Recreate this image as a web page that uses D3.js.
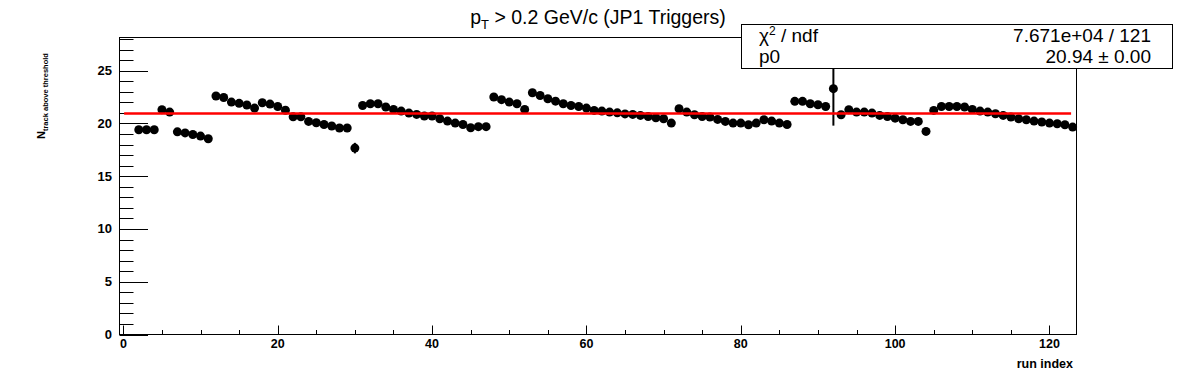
<!DOCTYPE html>
<html>
<head>
<meta charset="utf-8">
<script src="https://cdn.jsdelivr.net/npm/d3@7"></script>
<style>
  body { margin: 0; background: #fff; }
  svg { display: block; font-family: "Liberation Sans", Arial, Helvetica, sans-serif; }
</style>
</head>
<body>
<svg id="chart" width="1196" height="372"></svg>
<script>
/*
 * Data: one point per run index (2..123),
 * with its error and the constant fit.
 */
var runIndex = d3.range(2, 124);
var nTrack = [
    19.40, 19.40, 19.40, 21.30, 21.07, 19.20, 19.10, 18.95, 18.80, 18.55,
    22.60, 22.45, 22.02, 21.90, 21.74, 21.45, 21.96, 21.83, 21.60, 21.25,
    20.62, 20.62, 20.19, 20.06, 19.90, 19.75, 19.56, 19.56, 17.66, 21.70,
    21.86, 21.86, 21.55, 21.33, 21.17, 20.98, 20.85, 20.70, 20.70, 20.44,
    20.22, 20.03, 19.90, 19.59, 19.69, 19.69, 22.50, 22.25, 22.02, 21.86,
    21.33, 22.90, 22.65, 22.34, 22.11, 21.86, 21.70, 21.60, 21.45, 21.23,
    21.17, 21.07, 21.00, 20.90, 20.85, 20.76, 20.66, 20.54, 20.44, 20.03,
    21.39, 21.07, 20.82, 20.66, 20.60, 20.38, 20.19, 20.03, 20.03, 19.87,
    20.03, 20.35, 20.22, 20.03, 19.90, 22.09, 22.09, 21.86, 21.77, 21.60,
    23.29, 20.82, 21.30, 21.07, 21.07, 20.98, 20.76, 20.66, 20.50, 20.35,
    20.19, 20.19, 19.24, 21.23, 21.60, 21.60, 21.60, 21.55, 21.33, 21.17,
    21.07, 20.92, 20.76, 20.60, 20.44, 20.35, 20.22, 20.13, 20.03, 19.97,
    19.87, 19.65
];
var nTrackErr = [
    0.05, 0.05, 0.05, 0.05, 0.05, 0.05, 0.05, 0.05, 0.05, 0.05,
    0.05, 0.05, 0.05, 0.05, 0.05, 0.05, 0.05, 0.05, 0.05, 0.05,
    0.05, 0.05, 0.05, 0.05, 0.05, 0.05, 0.05, 0.05, 0.50, 0.05,
    0.05, 0.05, 0.05, 0.05, 0.05, 0.05, 0.05, 0.05, 0.05, 0.05,
    0.05, 0.05, 0.05, 0.05, 0.05, 0.05, 0.05, 0.05, 0.05, 0.05,
    0.05, 0.05, 0.05, 0.05, 0.05, 0.05, 0.05, 0.05, 0.05, 0.05,
    0.05, 0.05, 0.05, 0.05, 0.05, 0.05, 0.05, 0.05, 0.05, 0.05,
    0.05, 0.05, 0.05, 0.05, 0.05, 0.05, 0.05, 0.05, 0.05, 0.05,
    0.05, 0.05, 0.05, 0.05, 0.05, 0.05, 0.05, 0.05, 0.05, 0.05,
    3.50, 0.05, 0.05, 0.05, 0.05, 0.05, 0.05, 0.05, 0.05, 0.05,
    0.05, 0.05, 0.05, 0.05, 0.05, 0.05, 0.05, 0.05, 0.05, 0.05,
    0.05, 0.05, 0.05, 0.05, 0.05, 0.05, 0.05, 0.05, 0.05, 0.05,
    0.05, 0.05
];
var fitP0 = 20.94;
var fitRange = [0.1, 122.8];
var xTicks = [0, 20, 40, 60, 80, 100, 120];
var yTicks = [0, 5, 10, 15, 20, 25];
var statRows = [
    {name: 'ndf', value: '7.671e+04 / 121'},
    {name: 'p0', value: '20.94 \u00b1 0.00'}
];

var svg = d3.select('#chart');

/*
 * Frame and scales
 */
var frame = {left: 119.5, right: 1076.5, top: 37.5, bottom: 334.5};
var x = d3.scaleLinear().domain([-0.5, 123.5]).range([frame.left, frame.right]);
var y = d3.scaleLinear().domain([0, 28.14]).range([frame.bottom, frame.top]);

var points = runIndex.map(function(r, i) {
    return {x: r, y: nTrack[i], e: nTrackErr[i]};
});

// minor ticks first, then axes lines
var g = svg.append('g');

var yMinor = d3.range(0, 29, 1);
g.selectAll('.y-minor').data(yMinor).enter().append('line')
    .attr('x1', frame.left).attr('x2', function(d) {
        return frame.left + (d % 5 === 0 ? 28.5 : 14);
    })
    .attr('y1', function(d) { return Math.round(y(d)) + 0.5; })
    .attr('y2', function(d) { return Math.round(y(d)) + 0.5; })
    .attr('stroke', '#000').attr('stroke-width', 1);

var xMinor = d3.range(0, 124, 5);
g.selectAll('.x-minor').data(xMinor).enter().append('line')
    .attr('x1', function(d) { return Math.round(x(d)) + 0.5; })
    .attr('x2', function(d) { return Math.round(x(d)) + 0.5; })
    .attr('y1', frame.bottom)
    .attr('y2', function(d) { return frame.bottom - (d % 20 === 0 ? 9 : 4.5); })
    .attr('stroke', '#000').attr('stroke-width', 1);

// frame
g.append('rect')
    .attr('x', frame.left).attr('y', frame.top)
    .attr('width', frame.right - frame.left)
    .attr('height', frame.bottom - frame.top)
    .attr('fill', 'none').attr('stroke', '#000').attr('stroke-width', 1);

// tick labels
g.selectAll('.y-label').data(yTicks).enter().append('text')
    .attr('x', 112).attr('y', function(d) { return y(d) + 4.5; })
    .attr('text-anchor', 'end')
    .style('font-size', '13px').style('font-weight', 'bold')
    .text(function(d) { return d; });

g.selectAll('.x-label').data(xTicks).enter().append('text')
    .attr('x', function(d) { return x(d); }).attr('y', 348)
    .attr('text-anchor', 'middle')
    .style('font-size', '12.5px').style('font-weight', 'bold')
    .text(function(d) { return d; });

// axis titles
g.append('text')
    .attr('x', 1073).attr('y', 368)
    .attr('text-anchor', 'end')
    .style('font-size', '12.5px').style('font-weight', 'bold')
    .text('run index');

var yTitle = g.append('text')
    .attr('transform', 'translate(45,139) rotate(-90)')
    .style('font-weight', 'bold');
yTitle.append('tspan').style('font-size', '11px').text('N');
yTitle.append('tspan').attr('dy', 3).style('font-size', '7.5px').text('track above threshold');

// title
var title = svg.append('text')
    .attr('x', 598).attr('y', 24)
    .attr('text-anchor', 'middle')
    .style('font-size', '19.5px');
title.append('tspan').text('p');
title.append('tspan').attr('dy', 5).style('font-size', '13px').text('T');
title.append('tspan').attr('dy', -5).text(' > 0.2 GeV/c (JP1 Triggers)');

/*
 * Points with error bars
 */
var pts = svg.append('g');
pts.selectAll('.err').data(points).enter().append('line')
    .attr('x1', function(d) { return x(d.x); })
    .attr('x2', function(d) { return x(d.x); })
    .attr('y1', function(d) { return y(d.y - d.e); })
    .attr('y2', function(d) { return y(d.y + d.e); })
    .attr('stroke', '#000').attr('stroke-width', 2);

pts.selectAll('circle').data(points).enter().append('circle')
    .attr('cx', function(d) { return x(d.x); })
    .attr('cy', function(d) { return y(d.y); })
    .attr('r', 4.5)
    .attr('fill', '#000');

// constant fit
svg.append('line')
    .attr('x1', x(fitRange[0])).attr('x2', x(fitRange[1]))
    .attr('y1', y(fitP0)).attr('y2', y(fitP0))
    .attr('stroke', '#ff0000').attr('stroke-width', 2.3);

/*
 * Stats box
 */
var box = svg.append('g');
box.append('rect')
    .attr('x', 741.5).attr('y', 24.5)
    .attr('width', 431).attr('height', 44)
    .attr('fill', '#fff').attr('stroke', '#000').attr('stroke-width', 1);

var chi = box.append('text')
    .attr('x', 759).attr('y', 42)
    .style('font-size', '19px');
chi.append('tspan').text('\u03c7');
chi.append('tspan').attr('dy', -7).style('font-size', '12px').text('2');
chi.append('tspan').attr('dy', 7).text(' / ' + statRows[0].name);

box.append('text')
    .attr('x', 759).attr('y', 63)
    .style('font-size', '19px')
    .text(statRows[1].name);

box.selectAll('.stat-val').data(statRows).enter().append('text')
    .attr('x', 1151).attr('y', function(d, i) { return i === 0 ? 42 : 63; })
    .attr('text-anchor', 'end')
    .style('font-size', '19px')
    .text(function(d) { return d.value; });
</script>
</body>
</html>
